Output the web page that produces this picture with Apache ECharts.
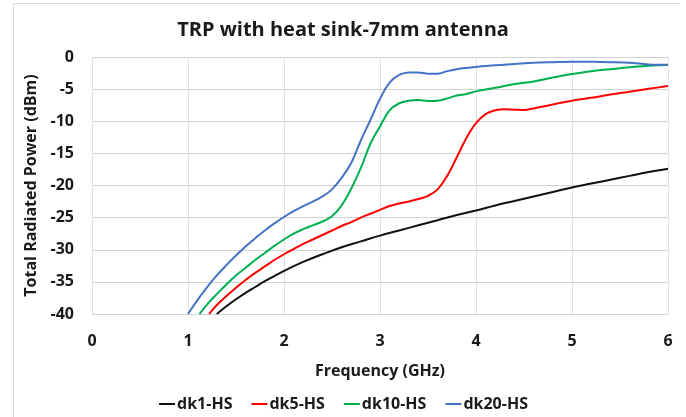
<!DOCTYPE html>
<html>
<head>
<meta charset="utf-8">
<script src="https://cdn.jsdelivr.net/npm/echarts@6/dist/echarts.min.js"></script>
<style>html,body{margin:0;padding:0;background:#fff;}#c{width:686px;height:417px;}</style>
</head>
<body>
<div id="c"></div>
<script>
var seriesNames = ['dk1-HS', 'dk5-HS', 'dk10-HS', 'dk20-HS'];
var xTicks = [0, 1, 2, 3, 4, 5, 6];
var yTicks = [0, -5, -10, -15, -20, -25, -30, -35, -40];

var freqDk1 = [1.3,1.4,1.5,1.6,1.7,1.8,1.9,2.0,2.2,2.4,2.6,2.8,3.0,3.2,3.4,3.6,3.8,4.0,4.2,4.4,4.6,4.8,5.0,5.2,5.4,5.6,5.8,6.0];
var dk1 = [-40,-38.8,-37.7,-36.7,-35.8,-34.9,-34.1,-33.3,-31.9,-30.7,-29.6,-28.7,-27.8,-27.0,-26.2,-25.4,-24.6,-23.9,-23.1,-22.4,-21.7,-21.0,-20.3,-19.7,-19.1,-18.5,-17.9,-17.4];

var freqDk5 = [1.22,1.3,1.4,1.5,1.6,1.7,1.8,1.9,2.0,2.1,2.2,2.3,2.4,2.5,2.6,2.7,2.8,2.9,3.0,3.1,3.2,3.3,3.4,3.5,3.6,3.7,3.8,3.9,4.0,4.1,4.2,4.3,4.4,4.5,4.6,4.8,5.0,5.2,5.4,5.6,5.8,6.0];
var dk5 = [-40,-38.6,-37.2,-35.9,-34.7,-33.6,-32.6,-31.6,-30.7,-29.9,-29.1,-28.4,-27.7,-27.0,-26.3,-25.7,-25.0,-24.4,-23.8,-23.2,-22.8,-22.5,-22.1,-21.6,-20.6,-18.5,-15.6,-12.6,-10.3,-8.9,-8.3,-8.15,-8.2,-8.25,-8.0,-7.4,-6.8,-6.35,-5.85,-5.4,-4.95,-4.5];

var freqDk10 = [1.12,1.2,1.3,1.4,1.5,1.6,1.7,1.8,1.9,2.0,2.1,2.2,2.3,2.4,2.5,2.6,2.7,2.8,2.9,3.0,3.1,3.2,3.3,3.4,3.5,3.6,3.7,3.8,3.9,4.0,4.2,4.4,4.6,4.8,5.0,5.2,5.4,5.6,5.8,6.0];
var dk10 = [-40,-38.5,-36.9,-35.4,-34.0,-32.8,-31.6,-30.5,-29.4,-28.4,-27.5,-26.8,-26.2,-25.6,-24.8,-23.1,-20.5,-17.3,-13.5,-10.8,-8.3,-7.2,-6.8,-6.7,-6.85,-6.8,-6.45,-6.0,-5.75,-5.35,-4.8,-4.2,-3.8,-3.2,-2.65,-2.2,-1.9,-1.6,-1.35,-1.25];

var freqDk20 = [1.0,1.1,1.2,1.3,1.4,1.5,1.6,1.7,1.8,1.9,2.0,2.1,2.2,2.3,2.4,2.5,2.6,2.7,2.8,2.9,3.0,3.1,3.2,3.3,3.4,3.5,3.6,3.7,3.8,3.9,4.0,4.2,4.4,4.6,4.8,5.0,5.2,5.4,5.6,5.8,6.0];
var dk20 = [-40,-37.8,-35.8,-34.0,-32.4,-30.9,-29.5,-28.2,-27.0,-25.9,-24.9,-24.0,-23.2,-22.5,-21.7,-20.6,-18.8,-16.5,-13.0,-9.8,-6.5,-4.0,-2.8,-2.4,-2.4,-2.6,-2.6,-2.2,-1.9,-1.7,-1.55,-1.3,-1.1,-0.9,-0.8,-0.73,-0.75,-0.8,-0.9,-1.15,-1.2];

var colors = ['#111111', '#ff0000', '#00b050', '#4472c4'];

function pairs(xs, ys) { return xs.map(function (x, i) { return [x, ys[i]]; }); }

var allData = [pairs(freqDk1, dk1), pairs(freqDk5, dk5), pairs(freqDk10, dk10), pairs(freqDk20, dk20)];

var FONT = '"Open Sans", sans-serif';
var TXT = '#1a1a1a';

var chart = echarts.init(document.getElementById('c'), null, {renderer: 'canvas'});
chart.setOption({
  backgroundColor: '#ffffff',
  animation: false,
  title: {
    text: 'TRP with heat sink-7mm antenna',
    left: 'center',
    top: 15,
    textStyle: {fontFamily: FONT, fontSize: 20, fontWeight: 'bold', color: TXT}
  },
  graphic: [
    {type: 'line', shape: {x1: 13, y1: 3.5, x2: 680, y2: 3.5}, style: {stroke: '#dcdcdc', lineWidth: 1}, silent: true},
    {type: 'line', shape: {x1: 13.5, y1: 3, x2: 13.5, y2: 417}, style: {stroke: '#dcdcdc', lineWidth: 1}, silent: true}
  ],
  legend: {
    bottom: 0,
    left: 'center',
    itemWidth: 16,
    itemHeight: 2,
    itemGap: 18,
    textStyle: {fontFamily: FONT, fontSize: 16, fontWeight: 'bold', color: TXT, padding: [0, 0, 0, -3]},
    data: seriesNames
  },
  grid: {left: 92, right: 18, top: 57, bottom: 103, containLabel: false},
  xAxis: {
    type: 'value',
    min: xTicks[0],
    max: xTicks[xTicks.length - 1],
    interval: 1,
    name: 'Frequency (GHz)',
    nameLocation: 'middle',
    nameGap: 49,
    nameTextStyle: {fontFamily: FONT, fontSize: 16, fontWeight: 'bold', color: TXT},
    axisLine: {show: false},
    axisTick: {show: false},
    axisLabel: {fontFamily: FONT, fontSize: 16, fontWeight: 'bold', color: TXT, margin: 19},
    splitLine: {show: true, lineStyle: {color: '#e2e2e2', width: 1}}
  },
  yAxis: {
    type: 'value',
    min: yTicks[yTicks.length - 1],
    max: yTicks[0],
    interval: 5,
    name: 'Total Radiated Power (dBm)',
    nameLocation: 'middle',
    nameGap: 48,
    nameTextStyle: {fontFamily: FONT, fontSize: 16, fontWeight: 'bold', color: TXT},
    axisLine: {show: false},
    axisTick: {show: false},
    axisLabel: {fontFamily: FONT, fontSize: 16, fontWeight: 'bold', color: TXT, margin: 18},
    splitLine: {show: true, lineStyle: {color: '#d2d2d2', width: 1}}
  },
  series: seriesNames.map(function (n, i) {
    return {
      name: n,
      type: 'line',
      data: allData[i],
      showSymbol: false,
      symbol: 'none',
      smooth: 0.4,
      clip: true,
      color: colors[i],
      lineStyle: {color: colors[i], width: 2}
    };
  })
});
</script>
</body>
</html>
